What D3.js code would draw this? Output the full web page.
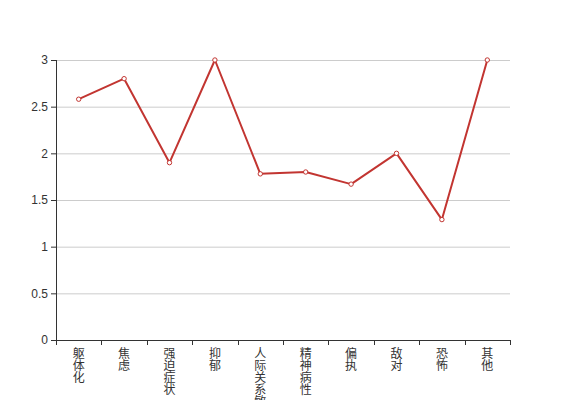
<!DOCTYPE html>
<html>
<head>
<meta charset="utf-8">
<script src="https://cdn.jsdelivr.net/npm/d3@7/dist/d3.min.js"></script>
<style>
  body { margin: 0; background: #fff; }
  text { font-family: "Noto Sans CJK SC", sans-serif; }
</style>
</head>
<body>
<div class="chart"></div>
<script>
var categories = ["躯体化", "焦虑", "强迫症状", "抑郁", "人际关系敏感", "精神病性", "偏执", "敌对", "恐怖", "其他"];
var scores = [2.58, 2.8, 1.9, 3.0, 1.78, 1.8, 1.67, 2.0, 1.29, 3.0];
var yTicks = [0, 0.5, 1, 1.5, 2, 2.5, 3];

var svgWidth = 567;
var svgHeight = 400;
var margin = { top: 60, right: 57, bottom: 60, left: 56 };
var width = svgWidth - margin.left - margin.right;
var height = svgHeight - margin.top - margin.bottom;

var svg = d3.select(".chart")
  .append("svg")
    .attr("width", svgWidth)
    .attr("height", svgHeight)
  .append("g")
    .attr("transform", "translate(" + margin.left + "," + margin.top + ")");

var x = d3.scaleBand().domain(categories).range([0, width]);
var y = d3.scaleLinear().domain([0, 3]).range([height, 0]);

// grid lines
svg.append("g")
  .selectAll("line")
  .data(yTicks.filter(function(d) { return d > 0; }))
  .enter().append("line")
    .attr("x1", 0)
    .attr("x2", width)
    .attr("y1", function(d) { return y(d) + 0.5; })
    .attr("y2", function(d) { return y(d) + 0.5; })
    .attr("stroke", "#ccc")
    .attr("stroke-width", 1);

// y axis
var yAxis = svg.append("g")
  .call(d3.axisLeft(y).tickValues(yTicks).tickSize(5).tickPadding(3).tickFormat(function(d) { return d; }));
yAxis.select(".domain").attr("stroke", "#333").attr("d", "M0.5," + height + "V0");
yAxis.selectAll(".tick line").attr("stroke", "#333");
yAxis.selectAll(".tick text").attr("fill", "#333").style("font-size", "12px").style("font-family", "sans-serif");

// x axis
var xAxis = svg.append("g")
  .attr("transform", "translate(0," + height + ")")
  .call(d3.axisBottom(x).tickSize(0).tickFormat(""));
xAxis.select(".domain").attr("stroke", "#333").attr("d", "M0," + 0.5 + "H" + width);
xAxis.selectAll(".tick").remove();

var bounds = categories.map(function(c) { return x(c); }).concat([width]);
xAxis.selectAll(".bt")
  .data(bounds)
  .enter().append("line")
    .attr("x1", function(d) { return Math.round(d) + 0.5; })
    .attr("x2", function(d) { return Math.round(d) + 0.5; })
    .attr("y1", 0)
    .attr("y2", 5)
    .attr("stroke", "#333");

var labels = xAxis.selectAll(".lbl")
  .data(categories)
  .enter().append("text")
    .attr("class", "lbl")
    .attr("text-anchor", "middle")
    .attr("fill", "#333")
    .style("font-size", "12px");

labels.selectAll("tspan")
  .data(function(d) { return d.split("").map(function(ch) { return { ch: ch, cat: d }; }); })
  .enter().append("tspan")
    .attr("x", function(d) { return x(d.cat) + x.bandwidth() / 2; })
    .attr("y", function(d, i) { return 18 + i * 12; })
    .text(function(d) { return d.ch; });

// line
var line = d3.line()
  .x(function(d, i) { return x(categories[i]) + x.bandwidth() / 2; })
  .y(function(d) { return y(d); });

svg.append("path")
  .datum(scores)
  .attr("fill", "none")
  .attr("stroke", "#c23531")
  .attr("stroke-width", 2)
  .attr("stroke-linejoin", "round")
  .attr("d", line);

svg.selectAll(".pt")
  .data(scores)
  .enter().append("circle")
    .attr("class", "pt")
    .attr("cx", function(d, i) { return x(categories[i]) + x.bandwidth() / 2; })
    .attr("cy", function(d) { return y(d); })
    .attr("r", 2.2)
    .attr("fill", "#fff")
    .attr("stroke", "#c23531")
    .attr("stroke-width", 1);
</script>
</body>
</html>
